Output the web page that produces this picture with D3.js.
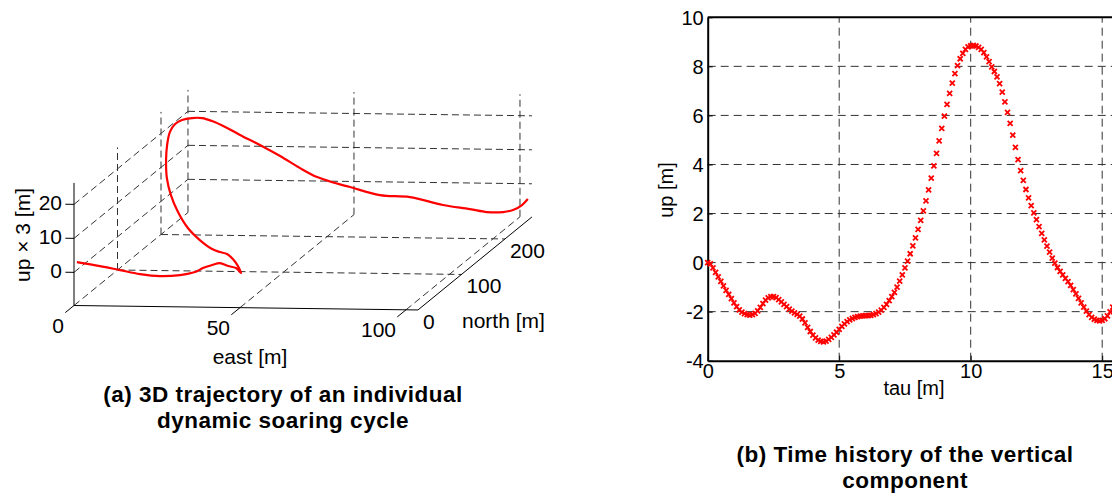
<!DOCTYPE html>
<html><head><meta charset="utf-8">
<script src="https://cdn.jsdelivr.net/npm/d3@7"></script>
<style>
body{margin:0;background:#fff}
svg{display:block}
text{font-family:"Liberation Sans",Arial,Helvetica,sans-serif;fill:#000}
</style>
</head><body>
<svg id="c" width="1112" height="497"></svg>
<script>
// ---------- (a) 3D trajectory data (east [m], north [m], up x 3 [m]) ----------
const east  = [0.2, 5.4, 9.1, 14.0, 19.1, 25.0, 29.6, 31.1, 33.1, 34.7,
               36.6, 37.2, 37.7, 35.2, 33.0, 30.7, 28.1, 24.7, 19.4, 15.2,
               11.4, 9.3, 8.1, 7.5, 7.3, 7.1, 7.6, 8.8, 11.4, 14.3,
               17.2, 20.9, 25.1, 30.7, 36.4, 41.9, 46.5, 51.4, 55.4, 63.3,
               71.3, 80.2, 87.4, 91.9, 96.1, 98.7, 101.0, 102.5];
const north = [5.1, 18.4, 36.3, 44.8, 52.2, 52.9, 52.3, 59.0, 64.8, 70.6,
               74.9, 88.5, 96.0, 108.2, 113.3, 117.5, 120.9, 129.0, 141.2, 145.8,
               152.1, 151.8, 151.7, 154.4, 158.3, 166.2, 174.4, 181.1, 184.1, 185.4,
               186, 188, 190, 193, 196, 200, 204, 208, 212, 220,
               228, 236, 243, 248, 253, 256, 259, 261];
const up3   = [2.5, 0, -3, -5, -6.3, -6, -5, -4.5, -4.2, -4.2,
               -5.5, -7.5, -9.75, -9, -7.5, -6.5, -6.3, -6.3, -5, -2,
               2, 7, 12, 17, 21, 24, 25.5, 26, 26.3, 26.2,
               25.3, 23.4, 20.9, 17.7, 14.2, 10.3, 7.3, 5.2, 3.65, 0.56,
               -0.76, -3.83, -5.65, -7.0, -7.47, -7.16, -5.97, -4.4];
const eastTicks  = [0, 50, 100];
const northTicks = [0, 100, 200];
const upTicks    = [0, 10, 20];
const eastLim  = [0, 103.6];
const northLim = [0, 262];
const upLim    = [-9.75, 26.3];

// ---------- (b) time history of the vertical component ----------
const tau = [0,0.1,0.2,0.3,0.4,0.5,0.6,0.7,0.8,0.9,1,1.1,1.2,1.3,1.4,1.5,1.6,1.7,1.8,1.9,
 2,2.1,2.2,2.3,2.4,2.5,2.6,2.7,2.8,2.9,3,3.1,3.2,3.3,3.4,3.5,3.6,3.7,3.8,3.9,
 4,4.1,4.2,4.3,4.4,4.5,4.6,4.7,4.8,4.9,5,5.1,5.2,5.3,5.4,5.5,5.6,5.7,5.8,5.9,
 6,6.1,6.2,6.3,6.4,6.5,6.6,6.7,6.8,6.9,7,7.1,7.2,7.3,7.4,7.5,7.6,7.7,7.8,7.9,
 8,8.1,8.2,8.3,8.4,8.5,8.6,8.7,8.8,8.9,9,9.1,9.2,9.3,9.4,9.5,9.6,9.7,9.8,9.9,
 10,10.1,10.2,10.3,10.4,10.5,10.6,10.7,10.8,10.9,11,11.1,11.2,11.3,11.4,11.5,11.6,11.7,11.8,11.9,
 12,12.1,12.2,12.3,12.4,12.5,12.6,12.7,12.8,12.9,13,13.1,13.2,13.3,13.4,13.5,13.6,13.7,13.8,13.9,
 14,14.1,14.2,14.3,14.4,14.5,14.6,14.7,14.8,14.9,15,15.1,15.2,15.3,15.4,15.5,15.6];
const upVal = [0.00,-0.05,-0.22,-0.40,-0.58,-0.77,-0.95,-1.13,-1.30,-1.47,
 -1.64,-1.80,-1.93,-2.02,-2.08,-2.12,-2.14,-2.12,-2.07,-1.97,
 -1.83,-1.67,-1.53,-1.44,-1.39,-1.39,-1.43,-1.51,-1.60,-1.70,
 -1.80,-1.90,-1.98,-2.05,-2.11,-2.18,-2.30,-2.46,-2.64,-2.81,
 -2.96,-3.07,-3.16,-3.21,-3.23,-3.20,-3.13,-3.05,-2.95,-2.84,
 -2.72,-2.60,-2.50,-2.41,-2.34,-2.28,-2.23,-2.20,-2.18,-2.17,
 -2.16,-2.16,-2.15,-2.12,-2.08,-2.02,-1.94,-1.83,-1.70,-1.55,
 -1.39,-1.21,-1.00,-0.76,-0.50,-0.22,0.06,0.36,0.68,1.01,
 1.35,1.72,2.11,2.52,2.96,3.44,3.94,4.45,4.96,5.47,
 5.97,6.45,6.90,7.32,7.70,8.03,8.31,8.53,8.69,8.79,
 8.84,8.85,8.83,8.77,8.69,8.56,8.39,8.19,7.98,7.79,
 7.57,7.30,6.95,6.55,6.12,5.68,5.20,4.70,4.20,3.75,
 3.35,2.98,2.64,2.32,2.03,1.75,1.47,1.19,0.93,0.67,
 0.43,0.18,-0.02,-0.20,-0.36,-0.50,-0.64,-0.78,-0.93,-1.10,
 -1.28,-1.46,-1.64,-1.82,-1.98,-2.12,-2.23,-2.31,-2.36,-2.38,
 -2.36,-2.29,-2.17,-2.01,-1.82,-1.60,-1.37];
const tauTicks = [0, 5, 10, 15];
const upTicksB = [-4, -2, 0, 2, 4, 6, 8, 10];

const svg = d3.select('#c');
const FONT_A = 21, FONT_B = 20, FONT_CAP = 22.5;
const fmt = d => String(d);   // plain hyphen-minus, as in the reference

// ================= (a) 3D plot, orthographic projection =================
const ox = 74, oy = 305.5;
const eX = d3.scaleLinear().domain([0, 100]).range([0, 332]);
const eY = d3.scaleLinear().domain([0, 100]).range([0, 4.3]);
const nX = d3.scaleLinear().domain([0, 100]).range([0, 43.5]);
const nY = d3.scaleLinear().domain([0, 100]).range([0, -35.5]);
const zY = d3.scaleLinear().domain(upLim).range([0, -(upLim[1] - upLim[0]) * 3.4]);
const P = (e, n, z) => [ox + eX(e) + nX(n), oy + eY(e) + nY(n) + zY(z)];

const gA = svg.append('g');
const gridA = gA.append('g').attr('stroke', '#333').attr('stroke-width', 1)
  .attr('stroke-dasharray', '7,4').attr('fill', 'none');
function seg(g, a, b) {
  const p = P(...a), q = P(...b);
  g.append('line').attr('x1', p[0]).attr('y1', p[1]).attr('x2', q[0]).attr('y2', q[1]);
}
const [e0, e1] = eastLim, [n0, n1] = northLim, [z0, z1] = upLim;
// left wall (east = min)
upTicks.forEach(z => seg(gridA, [e0, n0, z], [e0, n1, z]));
northTicks.filter(n => n > n0).forEach(n => seg(gridA, [e0, n, z0], [e0, n, z1]));
// back wall (north = max)
upTicks.forEach(z => seg(gridA, [e0, n1, z], [e1, n1, z]));
eastTicks.forEach(e => seg(gridA, [e, n1, z0], [e, n1, z1]));
// floor (up = min)
eastTicks.forEach(e => seg(gridA, [e, n0, z0], [e, n1, z0]));
northTicks.filter(n => n > n0).forEach(n => seg(gridA, [e0, n, z0], [e1, n, z0]));

// axes
const axA = gA.append('g').attr('stroke', '#000').attr('stroke-width', 1);
seg(axA, [e0, n0, z0], [e1, n0, z0]);   // east axis
seg(axA, [e1, n0, z0], [e1, n1, z0]);   // north axis
seg(axA, [e0, n0, z0], [e0, n0, z1]);   // up axis
eastTicks.forEach(e => seg(axA, [e, n0, z0], [e, n0 - 20, z0]));
upTicks.forEach(z => seg(axA, [e0, n0, z], [e0 - 2.6, n0, z]));

// tick labels
eastTicks.forEach(e => {
  const p = P(e, n0, z0);
  gA.append('text').attr('x', p[0] - 10).attr('y', p[1] + 22).attr('text-anchor', 'end')
    .attr('dominant-baseline', 'middle').attr('font-size', FONT_A).text(fmt(e));
});
northTicks.forEach(n => {
  const p = P(e1, n, z0);
  gA.append('text').attr('x', p[0] + 5).attr('y', p[1] + 13).attr('text-anchor', 'start')
    .attr('dominant-baseline', 'middle').attr('font-size', FONT_A).text(fmt(n));
});
upTicks.forEach(z => {
  const p = P(e0, n0, z);
  gA.append('text').attr('x', p[0] - 12).attr('y', p[1]).attr('text-anchor', 'end')
    .attr('dominant-baseline', 'middle').attr('font-size', FONT_A).text(fmt(z));
});
gA.append('text').attr('x', 250).attr('y', 358).attr('text-anchor', 'middle')
  .attr('dominant-baseline', 'middle').attr('font-size', FONT_A).text('east [m]');
gA.append('text').attr('x', 462).attr('y', 322).attr('text-anchor', 'start')
  .attr('dominant-baseline', 'middle').attr('font-size', FONT_A).text('north [m]');
gA.append('text').attr('transform', 'translate(24,235) rotate(-90)').attr('text-anchor', 'middle')
  .attr('dominant-baseline', 'middle').attr('font-size', FONT_A).text('up × 3 [m]');

// trajectory
const traj = east.map((e, i) => P(e, north[i], up3[i]));
gA.append('path').attr('d', d3.line().curve(d3.curveCatmullRom.alpha(0.5))(traj))
  .attr('fill', 'none').attr('stroke', '#ff0000').attr('stroke-width', 2.2)
  .attr('stroke-linejoin', 'round');

// ================= (b) time history =================
const x = d3.scaleLinear().domain([0, 16]).range([707.7, 1128.5]);
const y = d3.scaleLinear().domain([-4, 10]).range([360.7, 17.3]);
const gB = svg.append('g');

// grid
const gridB = gB.append('g').attr('stroke', '#333').attr('stroke-width', 1)
  .attr('stroke-dasharray', '8,5');
upTicksB.filter(v => v > -4 && v < 10).forEach(v =>
  gridB.append('line').attr('x1', x(0)).attr('x2', x(16)).attr('y1', y(v)).attr('y2', y(v)));
tauTicks.filter(v => v > 0).forEach(v =>
  gridB.append('line').attr('x1', x(v)).attr('x2', x(v)).attr('y1', y(-4)).attr('y2', y(10)));

// axes
const xAxis = gB.append('g').attr('transform', `translate(0,${y(-4)})`)
  .call(d3.axisBottom(x).tickValues(tauTicks).tickFormat(fmt).tickSizeInner(-5).tickSizeOuter(0).tickPadding(3));
const yAxis = gB.append('g').attr('transform', `translate(${x(0)},0)`)
  .call(d3.axisLeft(y).tickValues(upTicksB).tickFormat(fmt).tickSizeInner(-5).tickSizeOuter(0).tickPadding(4));
gB.append('line').attr('x1', x(0)).attr('x2', x(16)).attr('y1', y(10)).attr('y2', y(10))
  .attr('stroke', '#000').attr('stroke-width', 2);
[xAxis, yAxis].forEach(a => {
  a.select('.domain').attr('stroke', '#000').attr('stroke-width', 2);
  a.selectAll('.tick line').attr('stroke', '#000').attr('stroke-width', 1);
  a.selectAll('text').attr('font-size', FONT_B).attr('font-family', '"Liberation Sans",Arial,sans-serif').attr('fill', '#000');
});
yAxis.selectAll('text').attr('dy', '0.35em');

gB.append('text').attr('x', 914).attr('y', 390).attr('text-anchor', 'middle')
  .attr('dominant-baseline', 'middle').attr('font-size', FONT_B).text('tau [m]');
gB.append('text').attr('transform', 'translate(668,190) rotate(-90)').attr('text-anchor', 'middle')
  .attr('dominant-baseline', 'middle').attr('font-size', FONT_B).text('up [m]');

// markers
const mk = 2.5;
gB.append('g').attr('stroke', '#ff0000').attr('stroke-width', 1.8).attr('fill', 'none')
  .selectAll('path').data(tau.map((t, i) => [t, upVal[i]])).join('path')
  .attr('transform', d => `translate(${x(d[0])},${y(d[1])})`)
  .attr('d', `M${-mk},${-mk}L${mk},${mk}M${-mk},${mk}L${mk},${-mk}`);

// ================= captions =================
const cap = (cx, cy, lines) => lines.forEach((t, i) =>
  svg.append('text').attr('x', cx).attr('y', cy + i * 26).attr('text-anchor', 'middle')
    .attr('dominant-baseline', 'middle').attr('font-size', FONT_CAP).attr('font-weight', 'bold')
    .attr('letter-spacing', 0.5).text(t));
cap(283, 396, ['(a) 3D trajectory of an individual', 'dynamic soaring cycle']);
cap(905, 456, ['(b) Time history of the vertical', 'component']);
</script>
</body></html>
